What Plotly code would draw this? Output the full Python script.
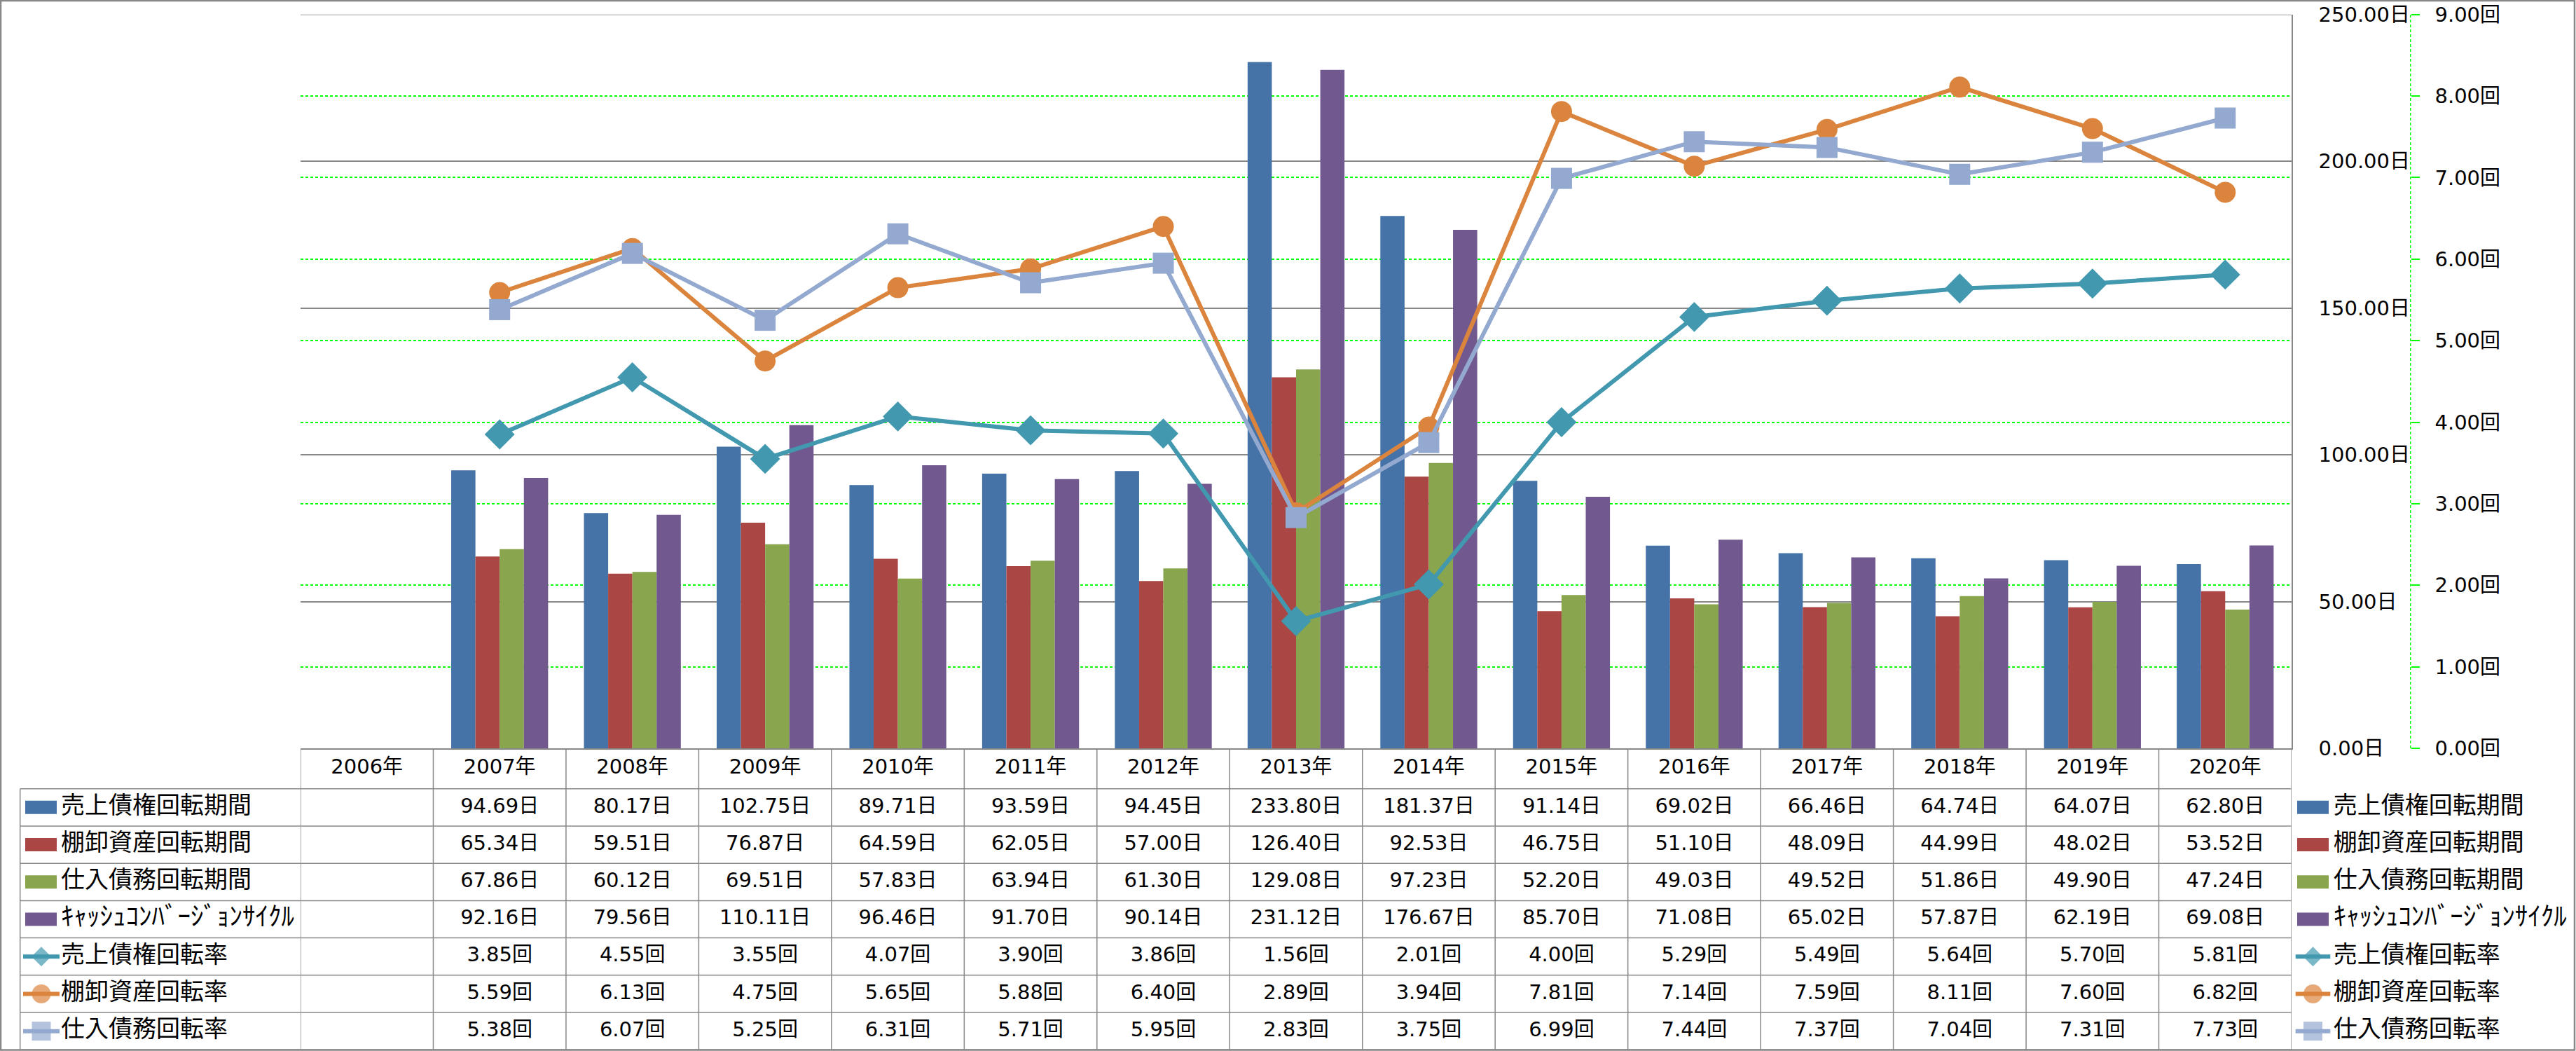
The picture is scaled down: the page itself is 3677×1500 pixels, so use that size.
import plotly.graph_objects as go

# ---------------- data ----------------
years = ['2006年', '2007年', '2008年', '2009年', '2010年', '2011年', '2012年', '2013年',
         '2014年', '2015年', '2016年', '2017年', '2018年', '2019年', '2020年']

ar_days = [None, 94.69, 80.17, 102.75, 89.71, 93.59, 94.45, 233.80, 181.37, 91.14, 69.02, 66.46, 64.74, 64.07, 62.80]
inv_days = [None, 65.34, 59.51, 76.87, 64.59, 62.05, 57.00, 126.40, 92.53, 46.75, 51.10, 48.09, 44.99, 48.02, 53.52]
ap_days = [None, 67.86, 60.12, 69.51, 57.83, 63.94, 61.30, 129.08, 97.23, 52.20, 49.03, 49.52, 51.86, 49.90, 47.24]
ccc_days = [None, 92.16, 79.56, 110.11, 96.46, 91.70, 90.14, 231.12, 176.67, 85.70, 71.08, 65.02, 57.87, 62.19, 69.08]
ar_turn = [None, 3.85, 4.55, 3.55, 4.07, 3.90, 3.86, 1.56, 2.01, 4.00, 5.29, 5.49, 5.64, 5.70, 5.81]
inv_turn = [None, 5.59, 6.13, 4.75, 5.65, 5.88, 6.40, 2.89, 3.94, 7.81, 7.14, 7.59, 8.11, 7.60, 6.82]
ap_turn = [None, 5.38, 6.07, 5.25, 6.31, 5.71, 5.95, 2.83, 3.75, 6.99, 7.44, 7.37, 7.04, 7.31, 7.73]

bar_names = ['売上債権回転期間', '棚卸資産回転期間', '仕入債務回転期間', 'ｷｬｯｼｭｺﾝﾊﾞｰｼﾞｮﾝｻｲｸﾙ']
line_names = ['売上債権回転率', '棚卸資産回転率', '仕入債務回転率']
day_unit = '日'
turn_unit = '回'

# ---------------- styles / geometry ----------------
W, H = 3677, 1500
PL, PR = 429, 3271          # plot area left/right (px)
PT, PB = 20.7, 1068         # plot area top/bottom (px)
HDR = 1125.7                # bottom of header row of the data table
TB = 1498.3                 # bottom of data table
LCOL = 28.7                 # left edge of table label column
ROWH = (TB - HDR) / 7

bar_colors = ['#4572A7', '#AA4643', '#89A54E', '#71588F']
line_colors = ['#4198AF', '#DB843D', '#93A9CF']
line_symbols = ['diamond', 'circle', 'square']
line_msize = [33, 30, 30]
leg_msize = [21.5, 27, 27]
label_sizes = [34, 34, 34, 37, 34, 34, 34]
GRAY = '#888888'
GREEN = '#00FF00'
FONT = 'Noto Sans CJK JP'
NUMFONT = 'DejaVu Sans, Noto Sans CJK JP'

bar_series = [ar_days, inv_days, ap_days, ccc_days]
line_series = [ar_turn, inv_turn, ap_turn]
all_series = bar_series + line_series
all_units = [day_unit] * 4 + [turn_unit] * 3
all_names = bar_names + line_names

fig = go.Figure()

for name, vals, col in zip(bar_names, bar_series, bar_colors):
    fig.add_trace(go.Bar(x=years, y=vals, name=name, marker=dict(color=col, line=dict(width=0)),
                         xaxis='x', yaxis='y', showlegend=False, hoverinfo='skip'))

for name, vals, col, sym, ms in zip(line_names, line_series, line_colors, line_symbols, line_msize):
    fig.add_trace(go.Scatter(x=years, y=vals, name=name, mode='lines+markers',
                             line=dict(color=col, width=6),
                             marker=dict(symbol=sym, size=ms, color=col, line=dict(width=0)),
                             xaxis='x', yaxis='y2', showlegend=False, hoverinfo='skip'))

# ---------------- data table ----------------
row_centers = [HDR + ROWH * (k + 0.5) for k in range(7)]
hdr_center = (PB + HDR) / 2

fig.add_trace(go.Scatter(x=years, y=[hdr_center] * len(years), mode='text', text=years,
                         textfont=dict(family=NUMFONT, size=29, color='black'),
                         xaxis='x', yaxis='y3', showlegend=False, hoverinfo='skip', cliponaxis=False))

for k, (vals, unit) in enumerate(zip(all_series, all_units)):
    txt = ['' if v is None else f'{v:.2f}{unit}' for v in vals]
    fig.add_trace(go.Scatter(x=years, y=[row_centers[k]] * len(years), mode='text', text=txt,
                             textfont=dict(family=NUMFONT, size=29, color='black'),
                             xaxis='x', yaxis='y3', showlegend=False, hoverinfo='skip', cliponaxis=False))

# row labels (table) and legend (right side)
label_x = {'table': 87, 'legend': 3330.7}
sym_span = {'table': (33, 85), 'legend': (3276.7, 3326.3)}
rect_span = {'table': (36, 81), 'legend': (3279, 3324)}

shapes = []
for key in ('table', 'legend'):
    fig.add_trace(go.Scatter(x=[label_x[key]] * 7, y=row_centers, mode='text', text=all_names,
                             textposition='middle right',
                             textfont=dict(family=FONT, size=label_sizes, color='black'),
                             xaxis='x2', yaxis='y3', showlegend=False, hoverinfo='skip', cliponaxis=False))
    x0, x1 = rect_span[key]
    for k, col in enumerate(bar_colors):
        shapes.append(dict(type='rect', xref='x2', yref='y3', x0=x0, x1=x1,
                           y0=row_centers[k] - 9.5, y1=row_centers[k] + 9.5,
                           fillcolor=col, line=dict(width=0), layer='above'))
    s0, s1 = sym_span[key]
    for j, (col, sym, ms) in enumerate(zip(line_colors, line_symbols, leg_msize)):
        yc = row_centers[4 + j]
        fig.add_trace(go.Scatter(x=[s0, (s0 + s1) / 2, s1], y=[yc] * 3, mode='lines+markers',
                                 line=dict(color=col, width=6),
                                 marker=dict(symbol=sym, size=[0, ms, 0], color=col, line=dict(width=0)),
                                 xaxis='x2', yaxis='y3', showlegend=False, hoverinfo='skip', cliponaxis=False))

# table grid lines
for k in range(8):
    y = HDR + ROWH * k
    shapes.append(dict(type='line', xref='x2', yref='y3', x0=LCOL, x1=PR, y0=y, y1=y,
                       line=dict(color=GRAY, width=1.5)))
shapes.append(dict(type='line', xref='x2', yref='y3', x0=LCOL, x1=LCOL, y0=HDR, y1=TB,
                   line=dict(color=GRAY, width=1.5)))
for i in range(len(years) + 1):
    shapes.append(dict(type='line', xref='x', yref='y3', x0=i - 0.5, x1=i - 0.5, y0=PB, y1=TB,
                       line=dict(color=GRAY, width=1.5)))

# top border of plot area (250 gridline)
shapes.append(dict(type='line', xref='x', yref='y', x0=-0.5, x1=len(years) - 0.5, y0=250, y1=250,
                   line=dict(color=GRAY, width=1.5), layer='below'))

# dashed secondary axis line
Y2POS = 3440.7 / W
shapes.append(dict(type='line', xref='paper', yref='y2', x0=Y2POS, x1=Y2POS, y0=0, y1=9,
                   line=dict(color=GREEN, width=1.5, dash='4px,3px')))

# outer chart border
shapes.append(dict(type='rect', xref='paper', yref='paper', x0=1 / W, x1=(W - 2) / W,
                   y0=1.5 / H, y1=(H - 1) / H, line=dict(color=GRAY, width=2.5),
                   fillcolor='rgba(0,0,0,0)'))

tickfont = dict(family=NUMFONT, size=29, color='black')

fig.update_layout(
    width=W, height=H, autosize=False,
    margin=dict(l=0, r=0, t=0, b=0, pad=0, autoexpand=False),
    paper_bgcolor='white', plot_bgcolor='rgba(0,0,0,0)',
    barmode='group', bargap=0.27, bargroupgap=0,
    showlegend=False,
    shapes=shapes,
    xaxis=dict(type='category', categoryorder='array', categoryarray=years,
               domain=[PL / W, PR / W], range=[-0.5, len(years) - 0.5], automargin=False,
               showticklabels=False, ticks='', showgrid=False, zeroline=False,
               showline=True, linecolor=GRAY, linewidth=1.5, anchor='y', fixedrange=True),
    yaxis=dict(domain=[(H - PB) / H, (H - PT) / H], range=[0, 250], dtick=50, automargin=False,
               tickformat='.2f', ticksuffix=day_unit, side='right', anchor='x',
               showline=True, linecolor=GRAY, linewidth=1.5, ticks='',
               showgrid=True, gridcolor=GRAY, gridwidth=1.5, zeroline=False,
               ticklabelstandoff=31, ticklabeloverflow='allow', tickfont=tickfont, fixedrange=True),
    yaxis2=dict(overlaying='y', side='right', anchor='free', position=Y2POS, automargin=False,
                range=[0, 9], dtick=1, tickformat='.2f', ticksuffix=turn_unit,
                showline=False, ticks='outside', ticklen=12, tickwidth=1.5, tickcolor=GREEN,
                showgrid=True, gridcolor=GREEN, gridwidth=1.5, griddash='4px,3px',
                zeroline=False, ticklabelstandoff=16, ticklabeloverflow='allow',
                tickfont=tickfont, fixedrange=True),
    xaxis2=dict(domain=[0, 1], range=[0, W], anchor='y3', visible=False, fixedrange=True, automargin=False),
    yaxis3=dict(domain=[0, (H - PB) / H], range=[H, PB], anchor='x2', visible=False, fixedrange=True,
                automargin=False),
)

fig.write_html('out.html', config={'displayModeBar': False},
               post_script="document.body.style.margin='0';document.body.style.overflow='hidden';")
